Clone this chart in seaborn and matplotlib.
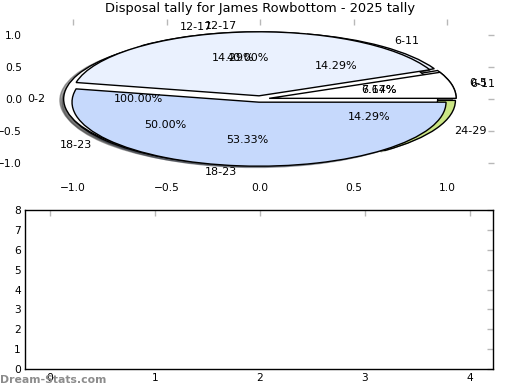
import matplotlib
matplotlib.use("Agg")
import matplotlib.pyplot as plt
import seaborn as sns

# ---- data ----
pie_a_labels = ['0-2']
pie_a_values = [1]
pie_b_labels = ['0-5', '6-11', '12-17', '18-23', '24-29']
pie_b_values = [1, 2, 2, 7, 2]
pie_c_labels = ['6-11', '12-17', '18-23']
pie_c_values = [1, 6, 8]
bar_ticks_x = [0, 1, 2, 3, 4]
bar_ticks_y = [0, 1, 2, 3, 4, 5, 6, 7, 8]
pie_ticks = [-1.0, -0.5, 0.0, 0.5, 1.0]
title = 'Disposal tally for James Rowbottom - 2025 tally'

palette = ['#ffffff', '#eaf1fe', '#c6d9fc', '#e0e0e0', '#cbe685']

sns.set_style('white')
plt.rcParams['font.family'] = ['DejaVu Sans']
plt.rcParams['text.color'] = 'black'
plt.rcParams['axes.labelcolor'] = 'black'
plt.rcParams['xtick.labelcolor'] = 'black'
plt.rcParams['ytick.labelcolor'] = 'black'

fig = plt.figure(figsize=(5.2, 3.9), dpi=100)
ax1 = fig.add_axes([26.25 / 520, 1 - 179 / 390, 467.5 / 520, 160 / 390])
ax2 = fig.add_axes([25 / 520, 1 - 369 / 390, 468 / 520, 159 / 390])

# Shadow offsets act in data units (scaled by dpi/72) for pie wedges
shadow = dict(ox=-0.0144, oy=-0.0144)
wp = dict(edgecolor='black', linewidth=1)
tp = dict(fontsize=8, color='black')

for labels, values in [(pie_b_labels, pie_b_values),
                       (pie_a_labels, pie_a_values),
                       (pie_c_labels, pie_c_values)]:
    ax1.pie(values, labels=labels, colors=palette[:len(values)],
            explode=[0.05] * len(values), autopct='%.2f%%', shadow=shadow,
            wedgeprops=wp, textprops=tp)

ax1.set_aspect('auto')
ax1.set_xlim(-1.25, 1.25)
ax1.set_ylim(-1.25, 1.25)
ax1.set_xticks(pie_ticks)
ax1.set_yticks(pie_ticks)
ax1.set_frame_on(False)
ax1.set_title(title, fontsize=9.35, pad=5, color='black')

ax2.set_xlim(-0.24, 4.22)
ax2.set_ylim(0, 8)
ax2.set_xticks(bar_ticks_x)
ax2.set_yticks(bar_ticks_y)
for s in ax2.spines.values():
    s.set_color('black')
    s.set_linewidth(1)

for ax in (ax1, ax2):
    ax.tick_params(direction='in', length=4, width=1, color='#b8b8b8',
                   top=True, right=True, labelsize=7.7, pad=3,
                   labelcolor='black')

fig.text(0.0, 0.012, 'Dream-Stats.com', color='#8c8c8c', fontsize=7.8,
         fontweight='bold', ha='left', va='bottom')

fig.savefig('out.png', dpi=100)
